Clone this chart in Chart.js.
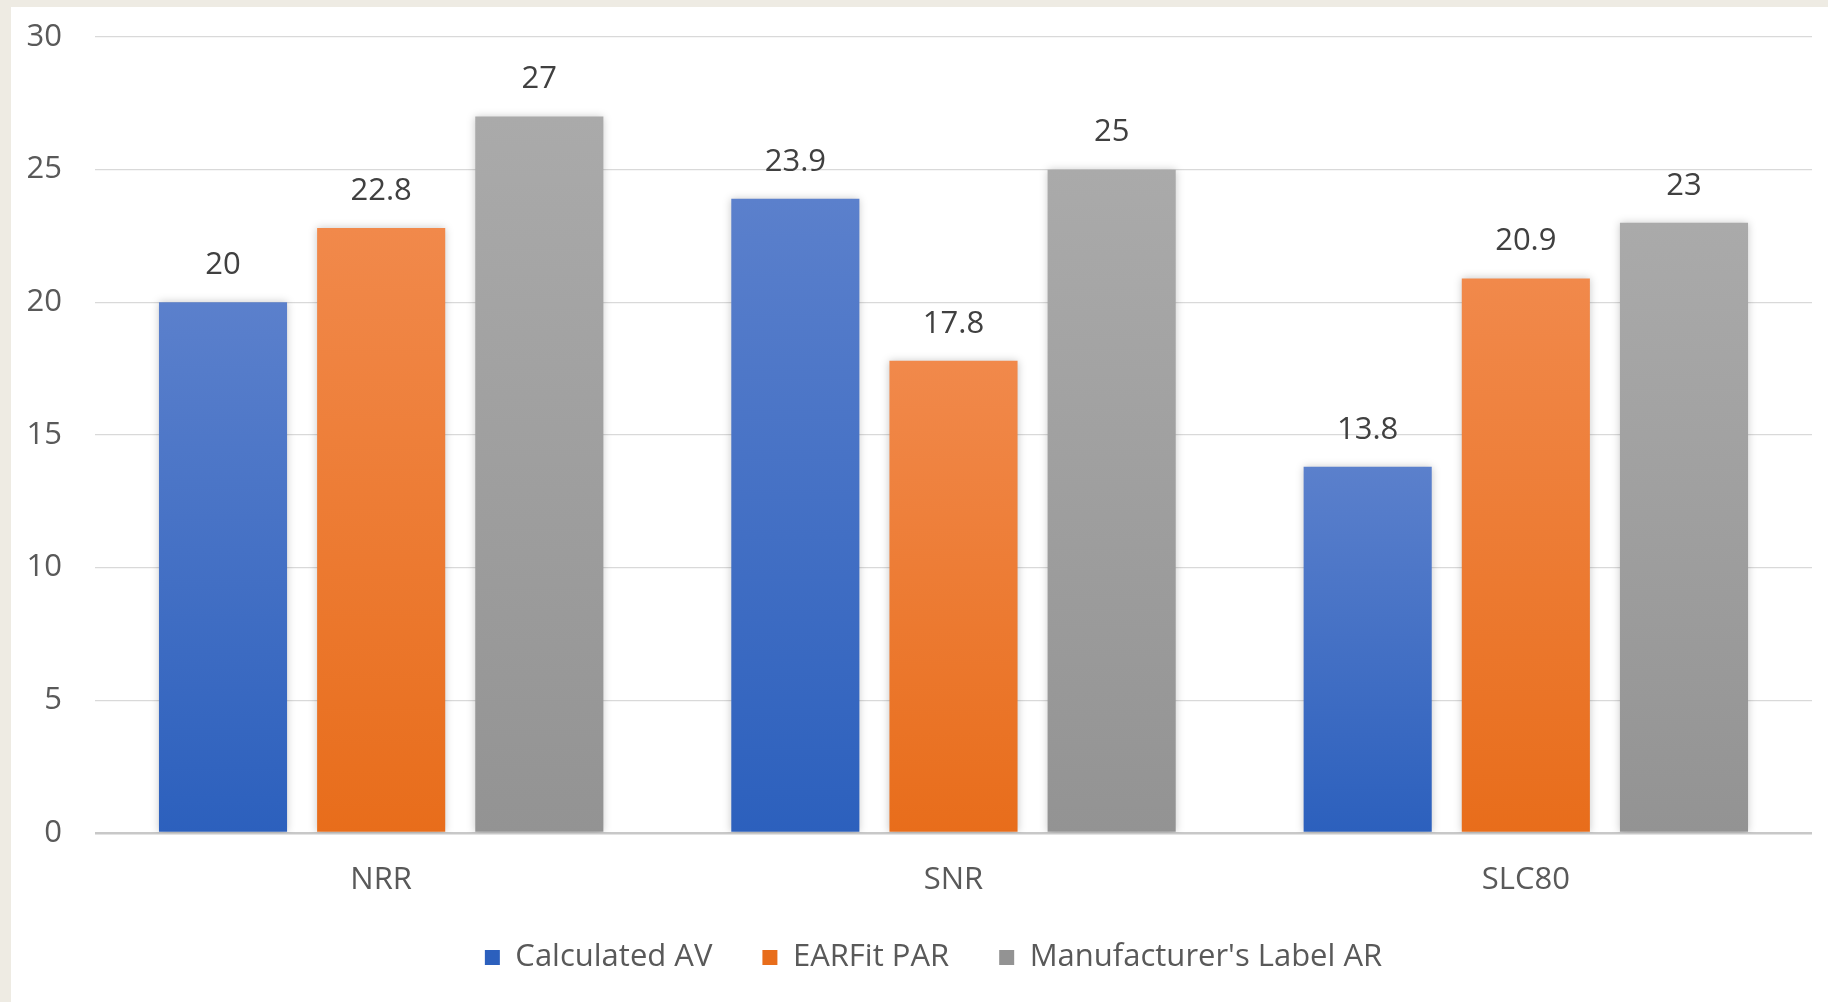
<!DOCTYPE html>
<html lang="en">
<head>
    <meta charset="UTF-8">
    <title>Attenuation Ratings</title>
    <style>
        body {
            margin: 0;
            background-color: #eeebe3;
            overflow: hidden;
        }
        .panel {
            position: absolute;
            left: 11px;
            top: 7px;
            width: 1817px;
            height: 995px;
            background-color: #fff;
        }
    </style>
</head>
<body>
    <div class="panel">
        <canvas id="ratingChart" width="1817" height="995"></canvas>
    </div>
    <script src="https://cdn.jsdelivr.net/npm/chart.js@4/dist/chart.umd.min.js"></script>
    <script>
        const categories = ['NRR', 'SNR', 'SLC80'];
        const calculatedAV = [20, 23.9, 13.8];
        const earfitPAR = [22.8, 17.8, 20.9];
        const manufacturerAR = [27, 25, 23];
        const yTicks = [0, 5, 10, 15, 20, 25, 30];

        const fontFamily = "'Open Sans', 'Noto Sans', sans-serif";
        const fontSize = 31;

        // vertical gradient over the height of each bar, light at the top
        const barGradient = (top, bottom) => (context) => {
            const chart = context.chart;
            if (!chart.chartArea) return bottom;
            const y = chart.scales.y;
            const yTop = y.getPixelForValue(context.raw);
            const yBase = y.getPixelForValue(0);
            const g = chart.ctx.createLinearGradient(0, yTop, 0, yBase);
            g.addColorStop(0, top);
            g.addColorStop(1, bottom);
            return g;
        };

        // value above each bar
        const valueLabels = {
            id: 'valueLabels',
            afterDatasetsDraw(chart) {
                const ctx = chart.ctx;
                ctx.save();
                ctx.font = `${fontSize}px ${fontFamily}`;
                ctx.fillStyle = '#404040';
                ctx.textAlign = 'center';
                ctx.textBaseline = 'middle';
                chart.data.datasets.forEach((ds, i) => {
                    chart.getDatasetMeta(i).data.forEach((bar, j) => {
                        ctx.fillText(String(ds.data[j]), bar.x, bar.y - 37);
                    });
                });
                ctx.restore();
            }
        };

        // soft glow behind the bars
        const barShadow = {
            id: 'barShadow',
            beforeDatasetsDraw(chart) {
                const ctx = chart.ctx;
                ctx.save();
                ctx.shadowColor = 'rgba(0, 0, 0, 0.22)';
                ctx.shadowBlur = 8;
            },
            afterDatasetsDraw(chart) {
                chart.ctx.restore();
            }
        };

        // the legend sits a little right of centre in the original
        const legendNudge = {
            id: 'legendNudge',
            afterLayout(chart) {
                chart.legend.left += 22;
                chart.legend.right += 22;
            }
        };

        new Chart(document.getElementById('ratingChart'), {
            type: 'bar',
            data: {
                labels: categories,
                datasets: [
                    {
                        label: 'Calculated AV',
                        data: calculatedAV,
                        backgroundColor: barGradient('#5b80cc', '#2c60bd')
                    },
                    {
                        label: 'EARFit PAR',
                        data: earfitPAR,
                        backgroundColor: barGradient('#f1894b', '#e86d1b')
                    },
                    {
                        label: "Manufacturer's Label AR",
                        data: manufacturerAR,
                        backgroundColor: barGradient('#aaaaaa', '#939393')
                    }
                ]
            },
            options: {
                responsive: false,
                animation: false,
                categoryPercentage: 0.829,
                barPercentage: 0.81,
                layout: {
                    padding: { top: 30, right: 16, left: 0, bottom: 19 }
                },
                scales: {
                    x: {
                        grid: { display: false },
                        border: { display: false },
                        ticks: {
                            color: '#595959',
                            font: { family: fontFamily, size: fontSize },
                            padding: 21
                        },
                        afterFit(scale) {
                            scale.height = 59;
                            scale.paddingLeft = 0;
                            scale.paddingRight = 0;
                        }
                    },
                    y: {
                        min: 0,
                        max: 30,
                        afterBuildTicks(scale) {
                            scale.ticks = yTicks.map(v => ({ value: v }));
                        },
                        afterFit(scale) {
                            scale.width = 84;
                            scale.paddingTop = 0;
                            scale.paddingBottom = 0;
                        },
                        border: { display: false },
                        grid: {
                            drawTicks: false,
                            color: (c) => c.tick && c.tick.value === 0 ? '#c8c8c8' : '#d9d9d9',
                            lineWidth: (c) => c.tick && c.tick.value === 0 ? 2.5 : 1.3
                        },
                        ticks: {
                            color: '#595959',
                            font: { family: fontFamily, size: fontSize },
                            padding: 33
                        }
                    }
                },
                plugins: {
                    legend: {
                        position: 'bottom',
                        labels: {
                            color: '#595959',
                            font: { family: fontFamily, size: fontSize },
                            boxWidth: 15,
                            boxHeight: 15,
                            padding: 50
                        }
                    },
                    tooltip: { enabled: false }
                }
            },
            plugins: [barShadow, valueLabels, legendNudge]
        });
    </script>
</body>
</html>
